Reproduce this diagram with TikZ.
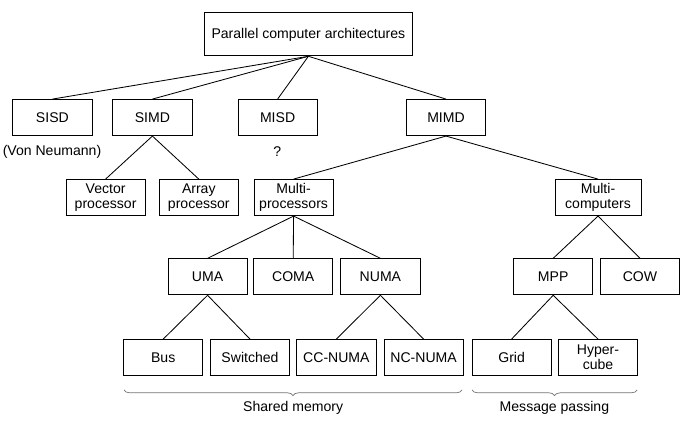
\documentclass[tikz,border=0pt]{standalone}
\usepackage{fontspec}
\setmainfont{Liberation Sans}
\usetikzlibrary{decorations.pathreplacing}

\begin{document}
\begin{tikzpicture}[
    bx/.style={draw,line width=0.7pt,minimum width=1.98cm,minimum height=0.9cm,
               inner sep=2pt,align=center,font=\fontsize{10}{10.5}\selectfont},
    lbl/.style={font=\fontsize{10}{10.5}\selectfont},
    ln/.style={line width=0.6pt},
    brc/.style={decorate,decoration={brace,mirror,amplitude=4pt},
                draw=black!55,line width=0.5pt}
  ]
    \useasboundingbox (0,0) rectangle (17.2,10.75);
    % top
    \node[bx,minimum width=5.22cm,minimum height=1.07cm] (pca) at (7.71,9.89)
         {Parallel computer architectures};
    % flynn classes
    \node[bx] (sisd) at (1.31,7.81)  {SISD};
    \node[bx] (simd) at (3.81,7.81)  {SIMD};
    \node[bx] (misd) at (6.94,7.81)  {MISD};
    \node[bx] (mimd) at (11.15,7.81) {MIMD};
    \node[lbl] (vn) at (1.30,6.95) {(Von Neumann)};
    \node[lbl] (qm) at (6.93,6.95) {?};
    % second level
    \node[bx] (vec)  at (2.64,5.81)  {Vector\\processor};
    \node[bx] (arr)  at (4.97,5.81)  {Array\\processor};
    \node[bx] (mpr)  at (7.34,5.81)  {Multi-\\processors};
    \node[bx,minimum width=2.15cm] (mco) at (14.95,5.81) {Multi-\\computers};
    % third level
    \node[bx] (uma)  at (5.19,3.83)  {UMA};
    \node[bx] (coma) at (7.33,3.83)  {COMA};
    \node[bx] (numa) at (9.51,3.83)  {NUMA};
    \node[bx] (mpp)  at (13.83,3.83) {MPP};
    \node[bx] (cow)  at (16.00,3.83) {COW};
    % bottom
    \node[bx] (bus)  at (4.08,1.81)  {Bus};
    \node[bx] (swi)  at (6.25,1.81)  {Switched};
    \node[bx] (ccn)  at (8.41,1.81)  {CC-NUMA};
    \node[bx] (ncn)  at (10.59,1.81) {NC-NUMA};
    \node[bx] (grid) at (12.79,1.81) {Grid};
    \node[bx] (hyp)  at (14.95,1.81) {Hyper-\\cube};
    \foreach \a/\b in {pca/sisd,pca/simd,pca/misd,pca/mimd,simd/vec,simd/arr,
                       mimd/mpr,mimd/mco,mpr/uma,mpr/coma,mpr/numa,mco/mpp,mco/cow,
                       uma/bus,uma/swi,numa/ccn,numa/ncn,mpp/grid,mpp/hyp}
      \draw[ln](\a.south)--(\b.north);
    % braces
    \coordinate (sm1) at (3.10,1.00);
    \coordinate (sm2) at (11.55,1.00);
    \coordinate (mp1) at (11.80,1.00);
    \coordinate (mp2) at (15.93,1.00);
    \draw[brc] (sm1) -- (sm2);
    \draw[brc] (mp1) -- (mp2);
    \node[lbl] (shm) at (7.33,0.55)  {Shared memory};
    \node[lbl] (msg) at (13.86,0.55) {Message passing};
\end{tikzpicture}
\end{document}
